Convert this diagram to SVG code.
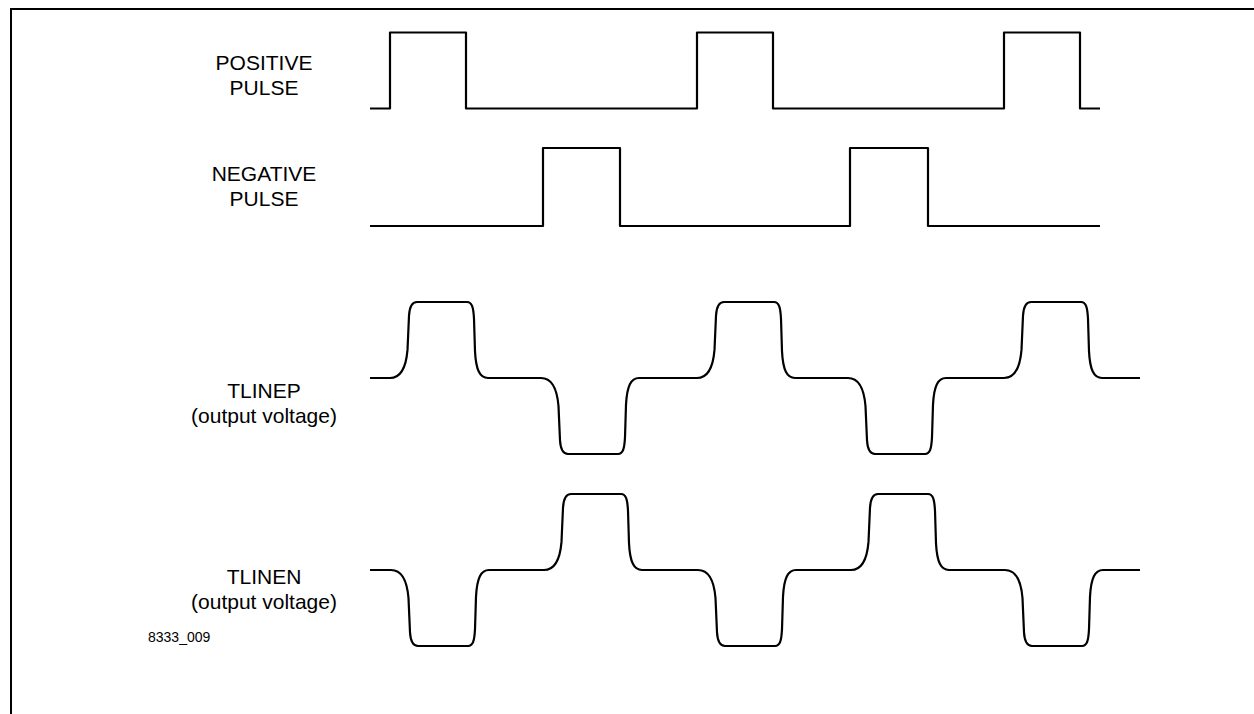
<svg xmlns="http://www.w3.org/2000/svg" width="1254" height="714" viewBox="0 0 1254 714">
<style>
.w{fill:none;stroke:#000;stroke-width:2.2;stroke-linejoin:round;stroke-linecap:butt}
.f{fill:none;stroke:#000;stroke-width:2}
.t{font-family:"Liberation Sans",Arial,sans-serif;font-size:21px;fill:#000;text-anchor:middle}
.s{font-family:"Liberation Sans",Arial,sans-serif;font-size:14px;fill:#000}
</style>
<rect width="1254" height="714" fill="#fff"/>
<path class="f" d="M11,714 V9 H1254"/>
<g id="labels">
<g id="lbl-positive"><text class="t" x="264" y="70">POSITIVE</text><text class="t" x="264" y="95">PULSE</text></g>
<g id="lbl-negative"><text class="t" x="264" y="181">NEGATIVE</text><text class="t" x="264" y="206">PULSE</text></g>
<g id="lbl-tlinep"><text class="t" x="264" y="398">TLINEP</text><text class="t" x="264" y="423">(output voltage)</text></g>
<g id="lbl-tlinen"><text class="t" x="264" y="584">TLINEN</text><text class="t" x="264" y="609">(output voltage)</text></g>
<text class="s" x="148" y="642">8333_009</text>
</g>
<g id="waveforms">
<path id="positive-pulse" class="w" d="M370,108.5 H390 V32.5 H466 V108.5 H697 V32.5 H773 V108.5 H1004 V32.5 H1080 V108.5 H1100"/>
<path id="negative-pulse" class="w" d="M370,226 H543 V148 H620 V226 H850 V148 H928 V226 H1100"/>
<path id="tlinep" class="w" d="M370,378 H390
c10,0 16,-9.88 17.5,-28.12 l1.5,-34.2 c0.6,-9.88 3,-13.68 8,-13.68 h50 c5,0 6.4,5.32 7,16.72 l1,32.68 c1,19 5,26.6 13,26.6
H541
c10,0 16,9.88 17.5,28.12 l1.5,34.2 c0.6,9.88 3,13.68 8,13.68 h50 c5,0 6.4,-5.32 7,-16.72 l1,-32.68 c1,-19 5,-26.6 13,-26.6
H697
c10,0 16,-9.88 17.5,-28.12 l1.5,-34.2 c0.6,-9.88 3,-13.68 8,-13.68 h50 c5,0 6.4,5.32 7,16.72 l1,32.68 c1,19 5,26.6 13,26.6
H848
c10,0 16,9.88 17.5,28.12 l1.5,34.2 c0.6,9.88 3,13.68 8,13.68 h50 c5,0 6.4,-5.32 7,-16.72 l1,-32.68 c1,-19 5,-26.6 13,-26.6
H1004
c10,0 16,-9.88 17.5,-28.12 l1.5,-34.2 c0.6,-9.88 3,-13.68 8,-13.68 h50 c5,0 6.4,5.32 7,16.72 l1,32.68 c1,19 5,26.6 13,26.6
H1140"/>
<path id="tlinen" class="w" d="M370,570 H391
c10,0 16,9.88 17.5,28.12 l1.5,34.2 c0.6,9.88 3,13.68 8,13.68 h50 c5,0 6.4,-5.32 7,-16.72 l1,-32.68 c1,-19 5,-26.6 13,-26.6
H544
c10,0 16,-9.88 17.5,-28.12 l1.5,-34.2 c0.6,-9.88 3,-13.68 8,-13.68 h50 c5,0 6.4,5.32 7,16.72 l1,32.68 c1,19 5,26.6 13,26.6
H698
c10,0 16,9.88 17.5,28.12 l1.5,34.2 c0.6,9.88 3,13.68 8,13.68 h50 c5,0 6.4,-5.32 7,-16.72 l1,-32.68 c1,-19 5,-26.6 13,-26.6
H851
c10,0 16,-9.88 17.5,-28.12 l1.5,-34.2 c0.6,-9.88 3,-13.68 8,-13.68 h50 c5,0 6.4,5.32 7,16.72 l1,32.68 c1,19 5,26.6 13,26.6
H1005
c10,0 16,9.88 17.5,28.12 l1.5,34.2 c0.6,9.88 3,13.68 8,13.68 h50 c5,0 6.4,-5.32 7,-16.72 l1,-32.68 c1,-19 5,-26.6 13,-26.6
H1140"/>
</g>
</svg>
